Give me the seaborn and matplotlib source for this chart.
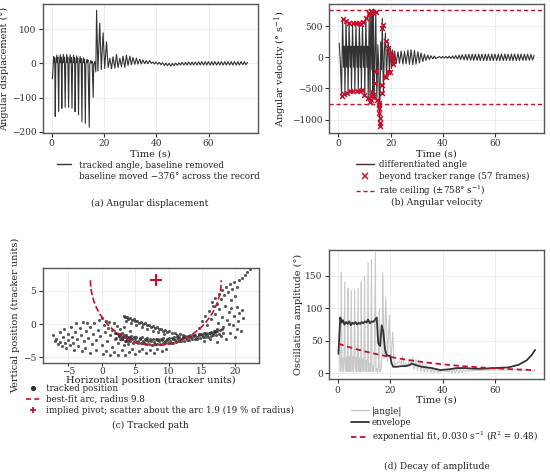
import numpy as np
import matplotlib
matplotlib.use("Agg")
import matplotlib.pyplot as plt
import seaborn as sns
from matplotlib.lines import Line2D
from matplotlib.patches import Arc

# ---- (a) angle: turning points of the trace ----
burst_t = [0.3, 0.8, 1.0, 1.2, 1.4, 1.6, 2.0, 2.2, 2.4, 2.7,
           2.9, 3.3, 3.5, 3.7, 3.9, 4.1, 4.5, 4.7, 4.9, 5.2,
           5.4, 5.8, 6.0, 6.2, 6.5, 6.7, 7.1, 7.3, 7.5, 7.8,
           8.0, 8.4, 8.6, 8.8, 9.0, 9.2, 9.6, 9.8, 10.0, 10.3,
           10.5, 10.9, 11.1, 11.3, 11.6, 11.8, 12.2, 12.4, 12.6, 12.9,
           13.1, 13.5, 13.7, 13.9, 14.4, 14.6, 15.0, 15.2, 15.5, 15.9,
           16.1, 16.5, 16.9,
           17.2, 17.7, 18.4, 19.0, 19.7, 20.3, 21.0, 21.6, 22.3, 22.9, 23.5, 24.2, 24.8, 25.4, 26.1, 26.7,
           27.3, 28.0, 28.6, 29.2, 29.9, 30.5, 31.1, 31.8, 32.4, 33.0, 33.7, 34.3, 34.9, 35.6, 36.2, 36.8,
           37.5, 38.1]
burst_angle = [-45, 20, 3, 16, -155, -3, 24, 2, 18, -141,
               -3, 25, 2, 18, -131, -3, 26, 2, 18, -128,
               -3, 26, 2, 18, -128, -3, 25, 2, 17, -131,
               -3, 24, 2, 16, -141, -3, 22, 2, 15, -150,
               -3, 20, 2, 14, -170, -3, 16, 2, 12, -175,
               -3, 12, 2, 10, -186, -3, 8, 1, 6, -99,
               -2, 5, -25,
               155, -22, 117, -18, 89, -15, 63, -12, 15, -16, 19, -14, 26, -12, 15, -10,
               21, -12, 24, -6, 21, -4, 17, -3, 15, -2, 12, -2, 10, -1,
               8, -1, 8, 0]
calm_t = [38.7, 39.3, 39.9, 40.6, 41.2, 41.8, 42.4, 43.1, 43.7, 44.3,
          44.9, 45.6, 46.2, 46.8, 47.4, 48.1, 48.7, 49.3, 49.9, 50.6,
          51.2, 51.8, 52.4, 53.1, 53.7, 54.3, 54.9, 55.6, 56.2, 56.8,
          57.4, 58.1, 58.7, 59.3, 59.9, 60.6, 61.2, 61.8, 62.4, 63.1,
          63.7, 64.3, 64.9, 65.6, 66.2, 66.8, 67.4, 68.1, 68.7, 69.3,
          69.9, 70.6, 71.2, 71.8, 72.4, 73.1, 73.7, 74.3, 74.9]
calm_angle = [4, -2, 4, -3, 3, -4, 2, -6, 1, -7,
              0, -8, 0, -7, 1, -6, 2, -5, 3, -5,
              3, -5, 4, -5, 4, -5, 4, -5, 5, -5,
              5, -5, 5, -5, 5, -5, 5, -5, 5, -5,
              5, -5, 5, -5, 5, -5, 5, -5, 5, -5,
              5, -5, 5, -5, 5, -4, 5, -4, 3]

# ---- (b) angular velocity ----
rate_t = [0.3, 0.8, 1.2, 1.6, 2.0, 2.3, 2.5, 2.9, 3.3, 3.5,
          3.7, 4.1, 4.5, 4.8, 5.0, 5.4, 5.8, 6.1, 6.3, 6.7,
          7.1, 7.4, 7.6, 8.0, 8.4, 8.6, 8.8, 9.2, 9.6, 9.9,
          10.1, 10.5, 10.9, 11.2, 11.4, 11.8, 12.1, 12.4, 12.8, 13.0,
          13.2, 13.4, 13.7, 14.3, 14.7, 15.1, 15.4, 15.8, 16.2, 16.5,
          16.8, 17.2, 17.6, 18.0, 18.4, 18.8, 19.1, 19.5, 19.9, 20.3,
          20.7, 21.1, 21.5, 22.1, 22.8, 23.4, 24.0, 24.7, 25.3, 25.9,
          26.6, 27.2, 27.8, 28.5, 29.1, 29.7, 30.4, 31.0, 31.6, 32.3,
          32.9, 33.5, 34.2, 34.8, 35.4, 36.1, 36.7, 37.3]
rate_v = [230, -120, -622, 611, -160, 180, -595, 590, -160, 180,
          -568, 557, -160, 180, -547, 547, -160, 180, -536, 547,
          -160, 180, -536, 536, -160, 180, -525, 574, -160, 180,
          -606, 627, -160, 180, -659, 708, -713, 750, -200, 734,
          -552, 708, -632, 734, -686, 200, -100, -1104, 250, -200,
          627, -570, 100, 390, -320, 100, 230, -230, 150, -180,
          120, -110, 100, -100, 90, -95, 100, -110, 95, -105,
          110, -115, 120, -120, 110, -110, 90, -90, 70, -70,
          50, -50, 35, -35, 25, -25, 20, -20]
calm_rate = [12, -12, 14, -14, 15, -15, 18, -18, 22, -22,
             28, -28, 35, -35, 42, -42, 46, -46, 48, -48,
             50, -50, 50, -50, 52, -52, 52, -52, 52, -52,
             52, -52, 52, -52, 52, -52, 52, -52, 52, -52,
             52, -52, 52, -52, 52, -52, 52, -52, 52, -52,
             50, -50, 50, -50, 50, -48, 48, -45, 30]
flag_t = [1.7, 2.8, 4.1, 5.4, 6.6, 7.9, 8.7, 9.6, 10.5, 11.7, 11.9, 12.4, 12.6, 13.0, 13.2, 13.4, 14.3,
          16.8, 16.9, 18.1, 19.1, 19.9, 20.4, 20.7, 21.0, 21.0,
          1.3, 2.2, 3.2, 4.5, 5.7, 7.0, 8.3, 9.2, 9.9, 11.2, 12.1, 12.4, 13.0, 13.2, 13.4, 14.0, 14.4,
          14.7, 15.5, 15.6, 15.6, 15.7, 15.8, 15.8, 15.8, 16.8, 16.8, 18.0, 18.1, 18.9, 19.8]
flag_v = [611, 590, 557, 547, 547, 547, 536, 574, 627, 708, 690, 750, 745, 734, 725, 708, 734,
          466, 520, 268, 145, 75, 40, 11, -54, -107,
          -622, -595, -568, -547, -536, -536, -536, -525, -606, -659, -713, -690, -552, -600, -632, -418, -214,
          -686, -760, -740, -820, -900, -981, -1061, -1104, -445, -568, -300, -322, -230, -230]
rate_ceiling = 758

# ---- (c) tracked path (tracker units) ----
path_x = [-7.3, -7.0, -6.8, -6.5, -6.3, -6.2, -6.0, -5.8, -5.6, -5.5, -5.3, -5.1, -5.0, -4.8, -4.6,
          -4.5, -4.3, -4.1, -4.0, -3.8, -3.7, -3.5, -3.3, -3.1, -3.0, -2.8, -2.7, -2.5, -2.3, -2.2,
          -2.0, -1.8, -1.7, -1.5, -1.3, -1.1, -0.9, -0.8, -0.6, -0.4,
          -0.2, 0.0, 0.1, 0.3, 0.5, 0.6, 0.8, 1.0, 1.1, 1.3, 1.5, 1.6, 1.8, 2.0, 2.1, 2.3, 2.5, 2.6,
          2.8, 3.0, 3.1, 3.3, 3.4, 3.6, 3.8, 4.0, 4.2,
          0.2, 0.7, 1.2, 1.9, 2.4, 3.0, 3.5, 4.1, 4.6, 5.0, 5.6, 6.1, 6.6, 7.2, 7.8, 8.3, 9.0, 9.6,
          3.3, 3.5, 3.8, 4.0, 4.3, 4.5, 4.8, 5.0, 5.3, 5.6, 5.9, 6.2, 6.5, 6.8, 7.1, 7.4, 7.7, 8.0,
          8.3, 8.6, 8.9, 9.2, 9.5, 9.8, 10.1, 10.5, 10.9, 11.3, 11.7, 12.1,
          3.6, 4.4, 5.2, 6.0, 6.8, 7.6, 8.4, 9.3,
          2.0, 2.5, 2.8, 3.3, 3.6, 4.1, 4.4, 4.9, 5.2, 5.7, 6.0, 6.5, 6.8, 7.3, 7.6, 8.1, 8.4, 8.9,
          9.2, 9.7, 10.0, 10.5, 10.8, 11.3, 11.6, 12.1, 12.4, 12.9, 13.2, 13.7, 14.0, 14.5, 14.8,
          15.3, 15.6, 16.1, 16.4, 16.9, 17.2, 17.7, 18.0,
          2.2, 2.7, 3.1, 3.5, 3.9, 4.3, 4.7, 5.1, 5.5, 5.9, 6.3, 6.7, 7.1, 7.5, 7.9, 8.3, 8.7, 9.1,
          9.5, 9.9, 10.3, 10.7, 11.1, 11.5, 11.9, 12.3, 12.7, 13.1, 13.5, 13.9, 14.3, 14.7, 15.1,
          15.5, 15.9, 16.3, 16.7, 17.1, 17.5,
          3.0, 3.8, 4.6, 5.4, 6.2, 7.0, 7.8, 8.6, 9.4, 10.2, 11.0, 11.8, 12.6, 13.4, 14.2, 15.0,
          15.8, 16.6,
          2.6, 3.4, 4.2, 5.0, 5.8, 6.6, 7.4, 8.2, 9.0, 9.8, 10.6, 11.4, 12.2, 13.0, 13.8, 14.6,
          15.4, 16.2, 17.0,
          14.6, 15.0, 15.3, 15.5, 15.8, 16.0, 16.2, 16.4, 16.6, 16.8, 17.0, 17.2, 17.4, 17.6, 17.8,
          18.0, 18.2, 18.4, 18.6, 18.8, 19.0, 19.2, 19.4, 19.6, 19.8, 20.0, 20.2, 20.4, 20.6, 20.8,
          21.0, 21.2, 20.3, 19.1, 18.1, 17.3,
          16.5, 16.9, 17.2, 17.5, 17.8, 18.0, 18.3, 18.6, 18.9, 19.2, 19.5, 19.8, 20.2, 20.6, 21.0,
          21.4, 21.8, 22.2, 20.0, 19.3]
path_y = [-1.6, -2.6, -2.2, -3.0, -1.2, -2.7, -3.3, -2.0, -0.8, -2.9, -3.6, -1.5, -2.4, -3.1, -0.5,
          -1.9, -2.8, -3.9, -1.2, 0.2, -2.3, -3.3, -0.6, -1.7, -4.1, 0.3, -2.6, -3.6, -1.0, 0.1,
          -2.1, -4.3, -0.4, -3.0, -1.5, 0.2, -2.4, -3.9, -0.9, 0.6,
          -1.8, 0.9, -3.2, -0.2, -1.2, 0.5, -2.6, -0.6, 0.3, -1.7, -3.5, -0.9, 0.1, -2.3, -1.3, -0.3,
          -2.9, -1.8, -0.8, -2.2, -1.4, -3.2, -0.5, -2.6, -1.9, -3.0, -1.1,
          -4.5, -4.0, -4.6, -4.2, -4.7, -3.9, -4.6, -4.2, -3.8, -4.5, -4.0, -3.7, -4.3, -3.9, -4.4,
          -3.8, -4.1, -3.7,
          1.2, 1.0, 1.1, 0.8, 0.9, 0.6, 0.7, 0.4, 0.5, 0.2, 0.3, 0.0, 0.1, -0.2, -0.1, -0.4, -0.3,
          -0.6, -0.5, -0.8, -0.7, -1.0, -0.9, -1.2, -1.1, -1.4, -1.3, -1.6, -1.5, -1.7,
          0.5, 0.2, -0.1, -0.4, -0.7, -1.0, -1.2, -1.5,
          -1.3, -1.5, -1.5, -1.7, -1.7, -1.9, -1.8, -2.0, -1.9, -2.1, -2.0, -2.2, -2.1, -2.2, -2.2,
          -2.3, -2.2, -2.2, -2.1, -2.2, -2.1, -2.1, -2.0, -2.0, -1.9, -1.9, -1.8, -1.8, -1.7, -1.7,
          -1.6, -1.5, -1.5, -1.4, -1.3, -1.3, -1.2, -1.1, -1.0, -0.9, -0.8,
          -2.1, -2.3, -2.3, -2.5, -2.6, -2.6, -2.8, -2.7, -2.9, -2.9, -2.9, -3.0, -3.0, -3.1, -3.0,
          -3.0, -3.0, -2.9, -2.9, -2.8, -2.8, -2.8, -2.7, -2.6, -2.6, -2.5, -2.4, -2.4, -2.3, -2.2,
          -2.2, -2.1, -2.0, -1.9, -1.9, -1.8, -1.7, -1.6, -1.5,
          -2.0, -2.2, -2.3, -2.5, -2.5, -2.6, -2.7, -2.6, -2.6, -2.5, -2.4, -2.3, -2.1, -2.0, -1.9,
          -1.7, -1.6, -1.4,
          -1.8, -2.0, -2.1, -2.3, -2.3, -2.4, -2.5, -2.4, -2.4, -2.4, -2.3, -2.2, -2.1, -1.9, -1.8,
          -1.6, -1.5, -1.3, -1.2,
          -0.6, 0.5, -2.6, 1.2, -0.2, 2.0, -2.3, 0.8, 2.7, -1.0, 1.5, -2.7, 0.2, 2.3, -1.8,
          1.0, -0.5, 2.8, -2.2, 0.6, 1.8, -1.3, 2.4, -0.2, 1.2, -2.0, 2.6, 0.4, 1.7, -1.1,
          2.2, 0.9, -0.8, 0.0, -1.4, -0.7,
          3.3, 3.9, 3.1, 4.5, 3.8, 5.2, 4.4, 5.6, 4.9, 6.0, 5.3, 6.3, 5.6, 6.6, 7.0,
          7.4, 7.9, 8.3, 4.3, 3.6]
pivot_x, pivot_y = 8.1, 6.6
arc_radius = 9.8

# ---- (d) amplitude envelope and fit ----
env_t = [0.3, 1.0, 1.5, 2.0, 2.6, 3.2, 3.8, 4.4, 5.0, 5.6, 6.2, 6.8, 7.4, 8.0, 8.6, 9.2, 9.8, 10.4,
         11.0, 11.6, 12.3, 12.9, 13.5, 14.2, 14.9, 15.5, 16.2, 16.8, 17.4, 18.1, 18.7, 19.4, 20.0,
         20.6, 21.2, 22.5, 24.4, 26.0, 27.6, 28.2, 29.5, 32.1, 35.9, 39.1, 42.2, 45.4, 48.6, 52.0,
         55.0, 60.0, 65.1, 69.0, 72.1, 74.0, 75.3]
env_v = [30, 86, 78, 82, 75, 79, 76, 80, 74, 78, 76, 79, 75, 78, 76, 79, 77, 80,
         78, 83, 77, 80, 79, 82, 86, 46, 42, 74, 64, 36, 28, 27, 27,
         15, 10, 10, 11, 11, 13, 15, 13, 10, 8, 5, 6, 8, 8, 7,
         7, 8, 9, 13, 20, 28, 36]
fit_a0, fit_k = 46.0, 0.030

ink = "#333333"
red = "#C8102E"
pale = "#c8c8c8"

sns.set_theme(style="whitegrid", rc={
    "axes.edgecolor": "#555555", "axes.linewidth": 1.0, "grid.color": "#ebebeb",
    "grid.linewidth": 0.6, "xtick.bottom": True, "ytick.left": True,
    "xtick.major.size": 3, "ytick.major.size": 3, "xtick.major.width": 0.8,
    "ytick.major.width": 0.8, "xtick.color": "#333333", "ytick.color": "#333333",
    "xtick.major.pad": 1.5, "ytick.major.pad": 1.5,
})
plt.rcParams["font.family"] = ["DejaVu Serif"]
plt.rcParams["mathtext.fontset"] = "dejavuserif"
tick_fs, lab_fs, leg_fs, cap_fs = 6.5, 7.0, 6.3, 6.6

W, H = 550, 475
fig = plt.figure(figsize=(W / 100, H / 100), dpi=100)


def box(l, t, r, b):
    return [l / W, 1 - b / H, (r - l) / W, (b - t) / H]


def style(ax, xlabel, ylabel, xpad=1):
    ax.set_xlabel(xlabel, fontsize=lab_fs, labelpad=xpad, color="#222222")
    ax.set_ylabel(ylabel, fontsize=lab_fs, labelpad=2, color="#222222")
    ax.tick_params(labelsize=tick_fs, length=3)


def legend(ax, handles, labels, x, y, hl, pad, spacing=0.25):
    lg = ax.legend(handles, labels, loc="upper left", bbox_to_anchor=(x / W, 1 - y / H),
                   bbox_transform=fig.transFigure, frameon=False, fontsize=leg_fs,
                   borderpad=0, borderaxespad=0, handlelength=hl, handletextpad=pad,
                   labelspacing=spacing)
    for t in lg.get_texts():
        t.set_color("#222222")
    return lg


angle_t = burst_t + calm_t
angle_v = burst_angle + calm_angle

# (a) angular displacement
ax = fig.add_axes(box(42.7, 4, 258, 133))
sns.lineplot(x=angle_t, y=angle_v, ax=ax, color=ink, lw=0.8, sort=False, estimator=None)
ax.set_xlim(-3.4, 78.9)
ax.set_ylim(-203, 173)
ax.set_xticks([0, 20, 40, 60])
ax.set_yticks([-200, -100, 0, 100])
style(ax, "Time (s)", "Angular displacement (°)")
legend(ax, [Line2D([], [], color=ink, lw=1.0), Line2D([], [], color="none")],
       ["tracked angle, baseline removed", "baseline moved \u2212376° across the record"],
       57, 160.5, 1.6, 0.9, 0.25)
fig.text(150 / W, 1 - 203 / H, "(a) Angular displacement", ha="center", va="center", fontsize=cap_fs)

# (b) angular velocity
ax = fig.add_axes(box(329, 4, 544.3, 132.7))
sns.lineplot(x=rate_t + calm_t, y=rate_v + calm_rate, ax=ax, color=ink, lw=0.8, sort=False,
             estimator=None)
for s in (1, -1):
    ax.axhline(s * rate_ceiling, color=red, ls="--", lw=1.0, dashes=(3, 2))
sns.scatterplot(x=flag_t, y=flag_v, ax=ax, marker="x", color=red, s=12, linewidth=1.1, zorder=3)
ax.set_xlim(-3.6, 78.8)
ax.set_ylim(-1212, 857)
ax.set_xticks([0, 20, 40, 60])
ax.set_yticks([-1000, -500, 0, 500])
style(ax, "Time (s)", "Angular velocity (° s$^{-1}$)")
legend(ax, [Line2D([], [], color=ink, lw=1.0),
            Line2D([], [], color=red, marker="x", ls="none", markersize=4, markeredgewidth=1.1),
            Line2D([], [], color=red, ls="--", lw=1.0, dashes=(3, 2))],
       ["differentiated angle", "beyond tracker range (57 frames)", "rate ceiling (±758° s$^{-1}$)"],
       356, 160, 2.0, 0.6, 0.3)
fig.text(437 / W, 1 - 202 / H, "(b) Angular velocity", ha="center", va="center", fontsize=cap_fs)

# (c) tracked path
ax = fig.add_axes(box(42.7, 268.3, 259.3, 362.7))
sns.scatterplot(x=path_x, y=path_y, ax=ax, color="#2e2e2e", s=5, alpha=0.8, linewidth=0)
ax.add_patch(Arc((pivot_x, pivot_y), 2 * arc_radius, 2 * arc_radius, theta1=180, theta2=360,
                 color=red, ls="--", lw=1.2))
sns.scatterplot(x=[pivot_x], y=[pivot_y], ax=ax, marker="+", color=red, s=70, linewidth=1.5,
                zorder=4)
ax.set_xlim(-8.85, 23.6)
ax.set_ylim(-5.8, 8.4)
ax.set_xticks([-5, 0, 5, 10, 15, 20])
ax.set_yticks([-5, 0, 5])
style(ax, "Horizontal position (tracker units)", "Vertical position (tracker units)", xpad=0)
ax.tick_params(axis="x", pad=0.8, length=2)
legend(ax, [Line2D([], [], color=ink, marker="o", ls="none", markersize=2.8),
            Line2D([], [], color=red, ls="--", lw=1.2, dashes=(3, 2)),
            Line2D([], [], color=red, marker="+", ls="none", markersize=5, markeredgewidth=1.3)],
       ["tracked position", "best-fit arc, radius 9.8",
        "implied pivot; scatter about the arc 1.9 (19 % of radius)"],
       26, 384, 1.7, 0.6, 0.22)
fig.text(150.7 / W, 1 - 425.7 / H, "(c) Tracked path", ha="center", va="center", fontsize=cap_fs)

# (d) decay of amplitude
ax = fig.add_axes(box(329, 250, 544, 379.3))
sns.lineplot(x=angle_t, y=np.abs(angle_v), ax=ax, color=pale, lw=0.8, sort=False, estimator=None)
sns.lineplot(x=env_t, y=env_v, ax=ax, color=ink, lw=1.3, sort=False, estimator=None)
fit_v = fit_a0 * np.exp(-fit_k * np.array(env_t))
sns.lineplot(x=env_t, y=fit_v, ax=ax, color=red, lw=1.3, sort=False, estimator=None)
ax.lines[-1].set_dashes((3, 2))
ax.set_xlim(-3.3, 78.7)
ax.set_ylim(-9.3, 190)
ax.set_xticks([0, 20, 40, 60])
ax.set_yticks([0, 50, 100, 150])
style(ax, "Time (s)", "Oscillation amplitude (°)")
legend(ax, [Line2D([], [], color=pale, lw=1.0), Line2D([], [], color=ink, lw=1.3),
            Line2D([], [], color=red, ls="--", lw=1.3, dashes=(3, 2))],
       ["|angle|", "envelope", "exponential fit, 0.030 s$^{-1}$ ($R^2$ = 0.48)"],
       351, 406, 2.0, 0.4, 0.3)
fig.text(437 / W, 1 - 466.7 / H, "(d) Decay of amplitude", ha="center", va="center", fontsize=cap_fs)

fig.savefig("out.png", dpi=100)
